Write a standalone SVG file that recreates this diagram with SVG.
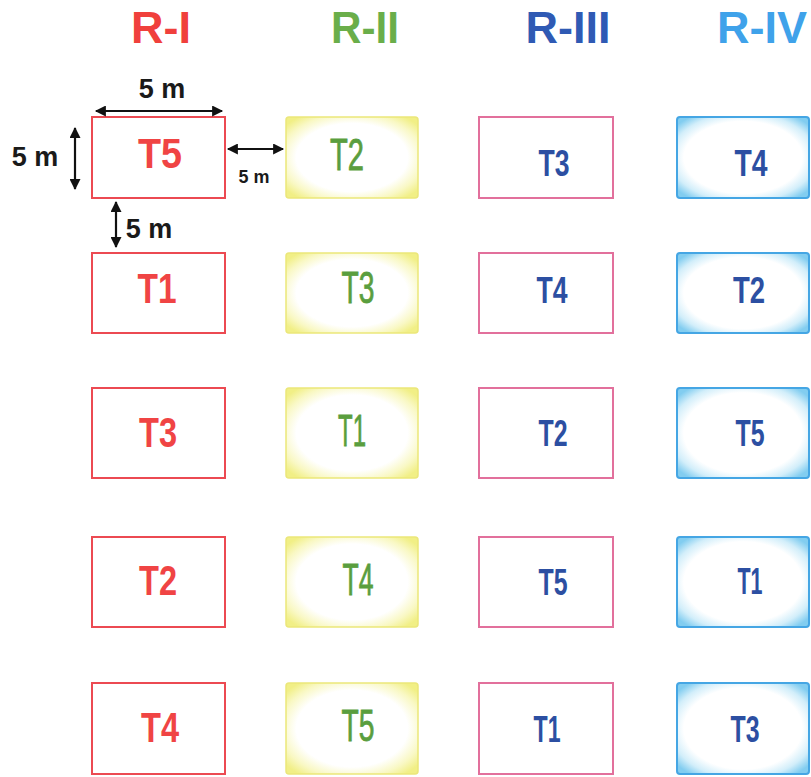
<svg xmlns="http://www.w3.org/2000/svg" width="811" height="777" viewBox="0 0 811 777">
<style>
.title{font-family:"Liberation Sans",Arial,sans-serif;font-weight:bold;font-size:45px;text-anchor:middle}
.c1{fill:#fff;stroke:#ec4a52;stroke-width:2}
.c2{fill:url(#gy);stroke:#ebe77a;stroke-width:1.5}
.c3{fill:#fff;stroke:#e2709c;stroke-width:2}
.c4{fill:url(#gb);stroke:#45a6e4;stroke-width:2}
.t1{font-family:"Liberation Sans",Arial,sans-serif;font-weight:bold;font-size:43px;fill:#f04444;text-anchor:middle}
.t2{font-family:"Liberation Sans",Arial,sans-serif;font-size:44px;fill:#5a9e3e;stroke:#5a9e3e;stroke-width:0.8;text-anchor:middle}
.t3{font-family:"Liberation Sans",Arial,sans-serif;font-weight:bold;font-size:37px;fill:#2c4fa2;text-anchor:middle}
.dim{font-family:"Liberation Sans",Arial,sans-serif;font-weight:bold;fill:#1a1a1a}
.arr{stroke:#111;stroke-width:2.2;fill:none;marker-start:url(#ah);marker-end:url(#ah)}
</style>
<defs>
<radialGradient id="gy" cx="0.5" cy="0.5" r="0.64">
<stop offset="0" stop-color="#ffffff"/>
<stop offset="0.66" stop-color="#ffffff"/>
<stop offset="0.85" stop-color="#f9f8c4"/>
<stop offset="1" stop-color="#f1ef86"/>
</radialGradient>
<radialGradient id="gb" cx="0.5" cy="0.5" r="0.64">
<stop offset="0" stop-color="#ffffff"/>
<stop offset="0.7" stop-color="#ffffff"/>
<stop offset="0.86" stop-color="#d2eefa"/>
<stop offset="1" stop-color="#82cdf0"/>
</radialGradient>
<marker id="ah" viewBox="0 0 10 10" refX="9" refY="5" markerWidth="5.5" markerHeight="5" orient="auto-start-reverse" markerUnits="strokeWidth">
<path d="M0,0 L10,5 L0,10 Z" fill="#111"/>
</marker>
</defs>
<rect width="811" height="777" fill="#fff"/>
<g id="titles">
<text class="title" x="161" y="43" fill="#f0403c">R-I</text>
<text class="title" x="365" y="43" fill="#6aae4a" textLength="68" lengthAdjust="spacingAndGlyphs">R-II</text>
<text class="title" x="568" y="43" fill="#2f5ab4">R-III</text>
<text class="title" x="762" y="43" fill="#3fa2ea">R-IV</text>
</g>
<g id="col1">
<g id="r1c1"><rect class="c1" x="92" y="117" width="133" height="81"/><text class="t1" x="160" y="168" textLength="44" lengthAdjust="spacingAndGlyphs">T5</text></g>
<g id="r2c1"><rect class="c1" x="92" y="253" width="133" height="80"/><text class="t1" x="157" y="303" textLength="39" lengthAdjust="spacingAndGlyphs">T1</text></g>
<g id="r3c1"><rect class="c1" x="92" y="388" width="133" height="90"/><text class="t1" x="158" y="447" textLength="38" lengthAdjust="spacingAndGlyphs">T3</text></g>
<g id="r4c1"><rect class="c1" x="92" y="537" width="133" height="90"/><text class="t1" x="158" y="595" textLength="38" lengthAdjust="spacingAndGlyphs">T2</text></g>
<g id="r5c1"><rect class="c1" x="92" y="683" width="133" height="91"/><text class="t1" x="160" y="742" textLength="38" lengthAdjust="spacingAndGlyphs">T4</text></g>
</g>
<g id="col2">
<g id="r1c2"><rect class="c2" x="286" y="117" width="132" height="81" rx="3"/><text class="t2" x="347" y="170" textLength="34" lengthAdjust="spacingAndGlyphs">T2</text></g>
<g id="r2c2"><rect class="c2" x="286" y="253" width="132" height="80" rx="3"/><text class="t2" x="358" y="303" textLength="33" lengthAdjust="spacingAndGlyphs">T3</text></g>
<g id="r3c2"><rect class="c2" x="286" y="388" width="132" height="90" rx="3"/><text class="t2" x="352" y="446" textLength="28" lengthAdjust="spacingAndGlyphs">T1</text></g>
<g id="r4c2"><rect class="c2" x="286" y="537" width="132" height="90" rx="3"/><text class="t2" x="358" y="595" textLength="31" lengthAdjust="spacingAndGlyphs">T4</text></g>
<g id="r5c2"><rect class="c2" x="286" y="683" width="132" height="91" rx="3"/><text class="t2" x="358" y="741" textLength="33" lengthAdjust="spacingAndGlyphs">T5</text></g>
</g>
<g id="col3">
<g id="r1c3"><rect class="c3" x="479" y="117" width="134" height="81"/><text class="t3" x="554" y="176" textLength="31" lengthAdjust="spacingAndGlyphs">T3</text></g>
<g id="r2c3"><rect class="c3" x="479" y="253" width="134" height="80"/><text class="t3" x="552" y="303" textLength="31" lengthAdjust="spacingAndGlyphs">T4</text></g>
<g id="r3c3"><rect class="c3" x="479" y="388" width="134" height="90"/><text class="t3" x="553" y="446" textLength="29" lengthAdjust="spacingAndGlyphs">T2</text></g>
<g id="r4c3"><rect class="c3" x="479" y="537" width="134" height="90"/><text class="t3" x="553" y="595" textLength="29" lengthAdjust="spacingAndGlyphs">T5</text></g>
<g id="r5c3"><rect class="c3" x="479" y="683" width="134" height="91"/><text class="t3" x="547" y="742" textLength="27" lengthAdjust="spacingAndGlyphs">T1</text></g>
</g>
<g id="col4">
<g id="r1c4"><rect class="c4" x="677" y="117" width="132" height="81" rx="3"/><text class="t3" x="751" y="176" textLength="33" lengthAdjust="spacingAndGlyphs">T4</text></g>
<g id="r2c4"><rect class="c4" x="677" y="253" width="132" height="80" rx="3"/><text class="t3" x="749" y="303" textLength="32" lengthAdjust="spacingAndGlyphs">T2</text></g>
<g id="r3c4"><rect class="c4" x="677" y="388" width="132" height="90" rx="3"/><text class="t3" x="750" y="446" textLength="29" lengthAdjust="spacingAndGlyphs">T5</text></g>
<g id="r4c4"><rect class="c4" x="677" y="537" width="132" height="90" rx="3"/><text class="t3" x="750" y="594" textLength="25" lengthAdjust="spacingAndGlyphs">T1</text></g>
<g id="r5c4"><rect class="c4" x="677" y="683" width="132" height="91" rx="3"/><text class="t3" x="745" y="742" textLength="29" lengthAdjust="spacingAndGlyphs">T3</text></g>
</g>
<g id="connectors">
<line class="arr" x1="96" y1="111" x2="222" y2="111"/>
<line class="arr" x1="75" y1="128" x2="75" y2="189"/>
<line class="arr" x1="228" y1="149" x2="283" y2="149"/>
<line class="arr" x1="116" y1="202" x2="116" y2="247"/>
</g>
<g id="dim-labels">
<text class="dim" x="162" y="98" font-size="27" text-anchor="middle">5 m</text>
<text class="dim" x="35" y="166" font-size="27" text-anchor="middle">5 m</text>
<text class="dim" x="254" y="183" font-size="19" text-anchor="middle" textLength="31" lengthAdjust="spacingAndGlyphs">5 m</text>
<text class="dim" x="149" y="238" font-size="27" text-anchor="middle">5 m</text>
</g>
</svg>
